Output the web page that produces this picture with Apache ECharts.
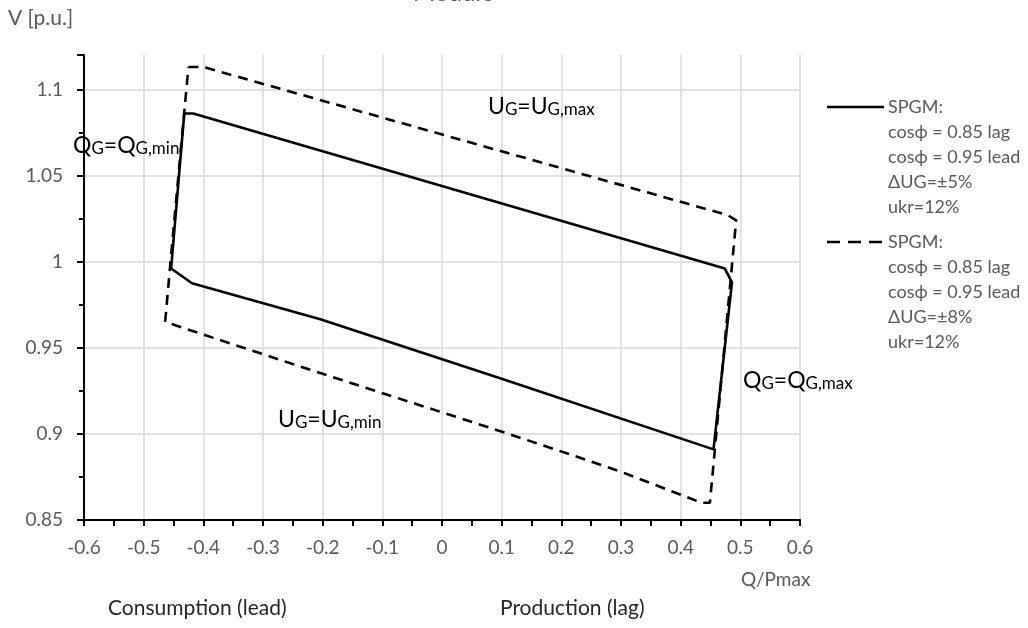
<!DOCTYPE html>
<html>
<head>
<meta charset="utf-8">
<script src="https://cdn.jsdelivr.net/npm/echarts@6/dist/echarts.min.js"></script>
<style>html,body{margin:0;padding:0;background:#fff;}#chart{width:1028px;height:628px;}</style>
</head>
<body>
<div id="chart"></div>
<script>
// Solid curve: SPGM, ΔUG=±5%
const solidQ = [-0.432, -0.417, 0.474, 0.486, 0.455, 0.100, -0.204, -0.419, -0.454, -0.432];
const solidV = [1.086, 1.086, 0.996, 0.988, 0.891, 0.932, 0.9666, 0.9875, 0.996, 1.086];
// Dashed curve: SPGM, ΔUG=±8%
const dashQ = [-0.425, -0.400, 0.479, 0.493, 0.449, 0.435, 0.300, 0.193, 0.094, -0.204, -0.464, -0.455, -0.425];
const dashV = [1.113, 1.113, 1.027, 1.024, 0.860, 0.860, 0.878, 0.8906, 0.902, 0.9353, 0.965, 1.000, 1.113];
const xTicks = [-0.6, -0.5, -0.4, -0.3, -0.2, -0.1, 0, 0.1, 0.2, 0.3, 0.4, 0.5, 0.6];
const yTicks = [0.85, 0.9, 0.95, 1, 1.05, 1.1];
const legendSolid = ['SPGM:', 'cosϕ = 0.85 lag', 'cosϕ = 0.95 lead', 'ΔUG=±5%', 'ukr=12%'];
const legendDash = ['SPGM:', 'cosϕ = 0.85 lag', 'cosϕ = 0.95 lead', 'ΔUG=±8%', 'ukr=12%'];

const FONT = 'Lato, "Open Sans", sans-serif';
const GRAY = '#595959';
const DARK = '#262626';
const pair = (xs, ys) => xs.map((x, i) => [x, ys[i]]);

const chart = echarts.init(document.getElementById('chart'));
const rich = {
  a: {fontSize: 23, fontFamily: FONT, color: DARK, lineHeight: 24, verticalAlign: 'bottom'},
  s: {fontSize: 17, fontFamily: FONT, color: DARK, lineHeight: 19, verticalAlign: 'bottom'}
};
function ann(x, y, big1, small1, big2, small2) {
  return {type: 'text', left: x, top: y, z: 50,
    style: {text: '{a|' + big1 + '}{s|' + small1 + '}{a|=' + big2 + '}{s|' + small2 + '}', rich: rich}};
}
chart.setOption({
  animation: false,
  backgroundColor: '#fff',
  grid: {left: 84, right: 228, top: 55, bottom: 108},
  xAxis: {
    type: 'value', min: -0.6, max: 0.6, interval: 0.1,
    axisLine: {onZero: false, lineStyle: {color: '#000', width: 2}},
    axisTick: {show: true, length: 6, lineStyle: {color: '#000', width: 2}},
    minorTick: {show: true, splitNumber: 2, length: 6, lineStyle: {color: '#000', width: 2}},
    splitLine: {show: true, lineStyle: {color: '#d9d9d9', width: 1.5}},
    axisLabel: {color: GRAY, fontSize: 19, fontFamily: FONT, margin: 18,
      formatter: v => { const t = xTicks.find(k => Math.abs(k - v) < 1e-6); return t === undefined ? '' : String(t); }}
  },
  yAxis: {
    type: 'value', min: 0.85, max: 1.12, interval: 0.05,
    axisLine: {show: true, onZero: false, lineStyle: {color: '#000', width: 2}},
    axisTick: {show: true, length: 7, lineStyle: {color: '#000', width: 2}},
    minorTick: {show: true, splitNumber: 2, length: 5, lineStyle: {color: '#000', width: 2}},
    splitLine: {show: true, lineStyle: {color: ['#d9d9d9','#d9d9d9','#d9d9d9','#d9d9d9','#d9d9d9','#d9d9d9','rgba(0,0,0,0)'], width: 1.5}},
    axisLabel: {color: GRAY, fontSize: 19, fontFamily: FONT, margin: 21, showMaxLabel: false,
      formatter: v => { const t = yTicks.find(k => Math.abs(k - v) < 1e-6); return t === undefined ? '' : String(t); }}
  },
  series: [
    {type: 'line', name: 'SPGM ±5%', data: pair(solidQ, solidV), symbol: 'none', z: 5,
      lineStyle: {color: '#000', width: 2.6, type: 'solid'}},
    {type: 'line', name: 'SPGM ±8%', data: pair(dashQ, dashV), symbol: 'none', z: 4,
      lineStyle: {color: '#000', width: 2.6, type: [10, 7]}}
  ],
  graphic: [
    {type: 'text', left: 413, top: -19, style: {text: 'Module', fontSize: 24, fontFamily: FONT, fill: GRAY}},
    {type: 'text', left: 8, top: 8, style: {text: 'V [p.u.]', fontSize: 21, fontFamily: FONT, fill: GRAY}},
    {type: 'text', left: 741, top: 570, style: {text: 'Q/Pmax', fontSize: 19, fontFamily: FONT, fill: GRAY}},
    {type: 'text', left: 108, top: 598, style: {text: 'Consumption (lead)', fontSize: 21, fontFamily: FONT, fill: DARK}},
    {type: 'text', left: 500, top: 598, style: {text: 'Production (lag)', fontSize: 21, fontFamily: FONT, fill: DARK}},
    ann(488, 95, 'U', 'G', 'U', 'G,max'),
    ann(73, 134, 'Q', 'G', 'Q', 'G,min'),
    ann(743, 369, 'Q', 'G', 'Q', 'G,max'),
    ann(278, 408, 'U', 'G', 'U', 'G,min'),
    {type: 'line', shape: {x1: 827, y1: 107, x2: 884, y2: 107}, style: {stroke: '#000', lineWidth: 2.6}},
    {type: 'text', left: 888, top: 95, style: {text: legendSolid.join('\n'), fontSize: 18, lineHeight: 25, fontFamily: FONT, fill: GRAY}},
    {type: 'line', shape: {x1: 827, y1: 242, x2: 884, y2: 242}, style: {stroke: '#000', lineWidth: 2.6, lineDash: [13, 8]}},
    {type: 'text', left: 888, top: 230, style: {text: legendDash.join('\n'), fontSize: 18, lineHeight: 25, fontFamily: FONT, fill: GRAY}}
  ]
});
</script>
</body>
</html>
